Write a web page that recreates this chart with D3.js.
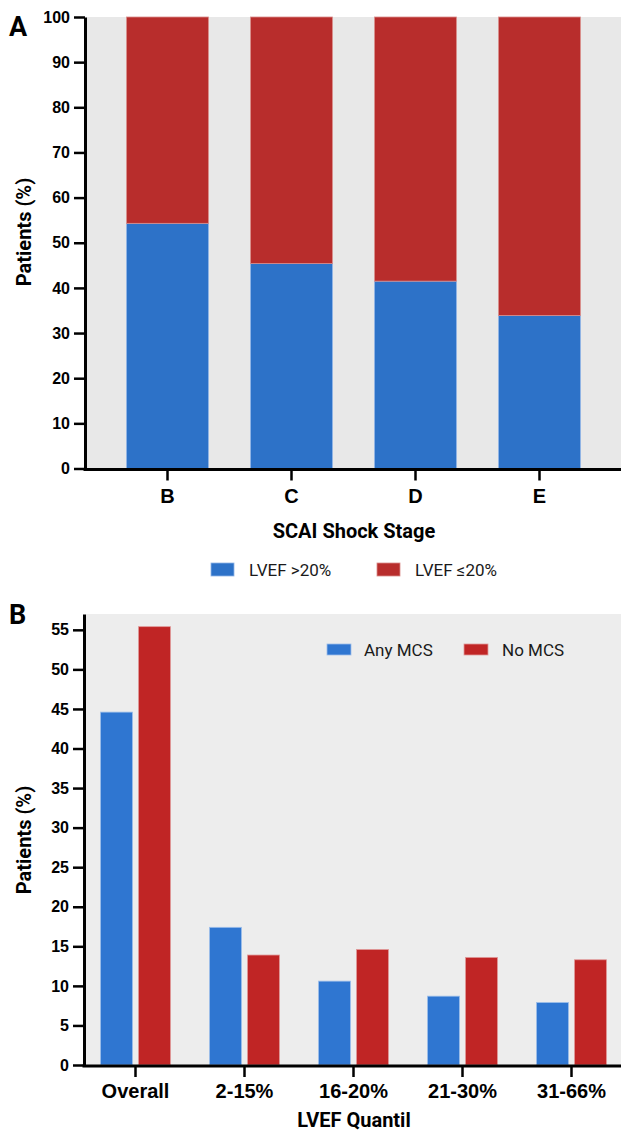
<!DOCTYPE html>
<html>
  <head>
    <meta charset="utf-8">
    <title>LVEF by SCAI stage and MCS</title>
    <script src="https://cdn.jsdelivr.net/npm/d3@7"></script>
    <style>
      html, body { margin: 0; padding: 0; background: #fff; }
      svg { display: block; font-family: "Roboto", "Liberation Sans", sans-serif; }
      .tick text { font-weight: bold; fill: #000; }
      .lbl { font-weight: bold; fill: #000; }
      .leg { fill: #1a1a1a; font-size: 17px; }
    </style>
  </head>
  <body>
    <div id="chart"></div>
    <script>
      // panel A - SCAI shock stage, stacked %
      var stages = ["B", "C", "D", "E"];
      var lvefAbove20 = [54.3, 45.4, 41.5, 33.9];
      var lvefBelow20 = [45.7, 54.6, 58.5, 66.1];
      var yTicksA = [0, 10, 20, 30, 40, 50, 60, 70, 80, 90, 100];
      var legendA = ["LVEF >20%", "LVEF \u226420%"];

      // panel B - LVEF quantil, any MCS vs no MCS
      var quantils = ["Overall", "2-15%", "16-20%", "21-30%", "31-66%"];
      var anyMCS = [44.6, 17.4, 10.6, 8.7, 7.9];
      var noMCS = [55.4, 13.9, 14.6, 13.6, 13.3];
      var yTicksB = [0, 5, 10, 15, 20, 25, 30, 35, 40, 45, 50, 55];
      var legendB = ["Any MCS", "No MCS"];

      var W = 621, H = 1133;
      var blueA = "#2d72c8", redA = "#b82d2c";
      var blueB = "#2f76d1", redB = "#c02525";

      var svg = d3.select("#chart").append("svg")
        .attr("width", W).attr("height", H);

      /* ---------- panel A ---------- */
      var xA = d3.scaleBand().domain(stages).range([105.5, 601.5])
        .paddingInner(0.34).paddingOuter(0.17);
      var yA = d3.scaleLinear().domain([0, 100]).range([468.5, 17]);

      svg.append("rect")
        .attr("x", 86).attr("y", yA(100))
        .attr("width", W - 86).attr("height", yA(0) - yA(100))
        .attr("fill", "#e8e8e8");

      var stackA = stages.map(function (s, i) {
        return { key: s, lo: lvefAbove20[i], hi: lvefBelow20[i] };
      });

      var gA = svg.append("g");
      gA.selectAll("rect.lo").data(stackA).enter().append("rect")
        .attr("x", function (d) { return xA(d.key); })
        .attr("width", xA.bandwidth())
        .attr("y", function (d) { return yA(d.lo); })
        .attr("height", function (d) { return yA(0) - yA(d.lo); })
        .attr("fill", blueA)
        .attr("stroke", "#8fb4e6").attr("stroke-width", 0.8);
      gA.selectAll("rect.hi").data(stackA).enter().append("rect")
        .attr("x", function (d) { return xA(d.key); })
        .attr("width", xA.bandwidth())
        .attr("y", function (d) { return yA(d.lo + d.hi); })
        .attr("height", function (d) { return yA(d.lo) - yA(d.lo + d.hi); })
        .attr("fill", redA)
        .attr("stroke", "#d98c8a").attr("stroke-width", 0.8);

      // y axis A
      var axA = svg.append("g").attr("transform", "translate(85,0)")
        .call(d3.axisLeft(yA).tickValues(yTicksA).tickSize(11).tickPadding(4).tickSizeOuter(0));
      axA.selectAll(".tick text").style("font-size", "16px");
      axA.selectAll(".tick line").attr("stroke-width", 2.5);
      axA.select(".domain").attr("stroke-width", 3);

      // x axis A
      var axXA = svg.append("g").attr("transform", "translate(0," + (yA(0) + 1) + ")")
        .call(d3.axisBottom(xA).tickSize(11).tickPadding(8).tickSizeOuter(0));
      axXA.select(".domain").remove();
      axXA.selectAll(".tick line").attr("stroke-width", 2.5);
      axXA.selectAll(".tick text").style("font-size", "20px");
      svg.append("line").attr("x1", 83.5).attr("x2", W)
        .attr("y1", yA(0) + 1).attr("y2", yA(0) + 1)
        .attr("stroke", "#000").attr("stroke-width", 3);

      svg.append("text").attr("class", "lbl")
        .attr("x", 354).attr("y", 538).attr("text-anchor", "middle")
        .style("font-size", "20px").text("SCAI Shock Stage");
      svg.append("text").attr("class", "lbl")
        .attr("transform", "translate(31,232) rotate(-90)").attr("text-anchor", "middle")
        .style("font-size", "20px").text("Patients (%)");
      svg.append("text").attr("class", "lbl")
        .attr("x", 9).attr("y", 36).style("font-size", "27px").text("A");

      // legend A
      var legA = svg.append("g");
      [[211, blueA, "#8fb4e6"], [377, redA, "#d98c8a"]].forEach(function (p, i) {
        legA.append("rect").attr("x", p[0]).attr("y", 563).attr("width", 23).attr("height", 13)
          .attr("fill", p[1]).attr("stroke", p[2]).attr("stroke-width", 0.8);
        legA.append("text").attr("class", "leg").attr("x", p[0] + 38).attr("y", 576)
          .text(legendA[i]);
      });

      /* ---------- panel B ---------- */
      var x0 = d3.scaleBand().domain(quantils).range([81, 626])
        .paddingInner(0.358).paddingOuter(0.179);
      var x1 = d3.scaleBand().domain(legendB).range([0, x0.bandwidth()]).paddingInner(0.158);
      var yB = d3.scaleLinear().domain([0, 57]).range([1065, 614]);

      svg.append("rect")
        .attr("x", 86).attr("y", yB(57))
        .attr("width", W - 86).attr("height", yB(0) - yB(57))
        .attr("fill", "#ededed");

      var groups = quantils.map(function (q, i) {
        return { key: q, vals: [{ s: legendB[0], v: anyMCS[i] }, { s: legendB[1], v: noMCS[i] }] };
      });
      var fillB = { "Any MCS": blueB, "No MCS": redB };
      var edgeB = { "Any MCS": "#9dbfea", "No MCS": "#e09a9a" };

      svg.append("g").selectAll("g").data(groups).enter().append("g")
        .attr("transform", function (d) { return "translate(" + x0(d.key) + ",0)"; })
        .selectAll("rect").data(function (d) { return d.vals; }).enter().append("rect")
        .attr("x", function (d) { return x1(d.s); })
        .attr("width", x1.bandwidth())
        .attr("y", function (d) { return yB(d.v); })
        .attr("height", function (d) { return yB(0) - yB(d.v); })
        .attr("fill", function (d) { return fillB[d.s]; })
        .attr("stroke", function (d) { return edgeB[d.s]; })
        .attr("stroke-width", 0.8);

      var axB = svg.append("g").attr("transform", "translate(84,0)")
        .call(d3.axisLeft(yB).tickValues(yTicksB).tickSize(11).tickPadding(4).tickSizeOuter(0));
      axB.selectAll(".tick text").style("font-size", "16px");
      axB.selectAll(".tick line").attr("stroke-width", 2.5);
      axB.select(".domain").attr("stroke-width", 3);

      var axXB = svg.append("g").attr("transform", "translate(0," + (yB(0) + 1) + ")")
        .call(d3.axisBottom(x0).tickSize(11).tickPadding(7).tickSizeOuter(0));
      axXB.select(".domain").remove();
      axXB.selectAll(".tick line").attr("stroke-width", 2.5);
      axXB.selectAll(".tick text").style("font-size", "20px");
      svg.append("line").attr("x1", 82.5).attr("x2", W)
        .attr("y1", yB(0) + 1).attr("y2", yB(0) + 1)
        .attr("stroke", "#000").attr("stroke-width", 3);

      svg.append("text").attr("class", "lbl")
        .attr("x", 354).attr("y", 1127).attr("text-anchor", "middle")
        .style("font-size", "20px").text("LVEF Quantil");
      svg.append("text").attr("class", "lbl")
        .attr("transform", "translate(31,840) rotate(-90)").attr("text-anchor", "middle")
        .style("font-size", "20px").text("Patients (%)");
      svg.append("text").attr("class", "lbl")
        .attr("x", 9).attr("y", 624).style("font-size", "27px").text("B");

      // legend B
      var legB = svg.append("g");
      [[327, 364], [464, 502]].forEach(function (p, i) {
        legB.append("rect").attr("x", p[0]).attr("y", 644).attr("width", 24).attr("height", 11)
          .attr("fill", fillB[legendB[i]]).attr("stroke", edgeB[legendB[i]]).attr("stroke-width", 0.8);
        legB.append("text").attr("class", "leg").attr("x", p[1]).attr("y", 656)
          .text(legendB[i]);
      });
    </script>
  </body>
</html>
